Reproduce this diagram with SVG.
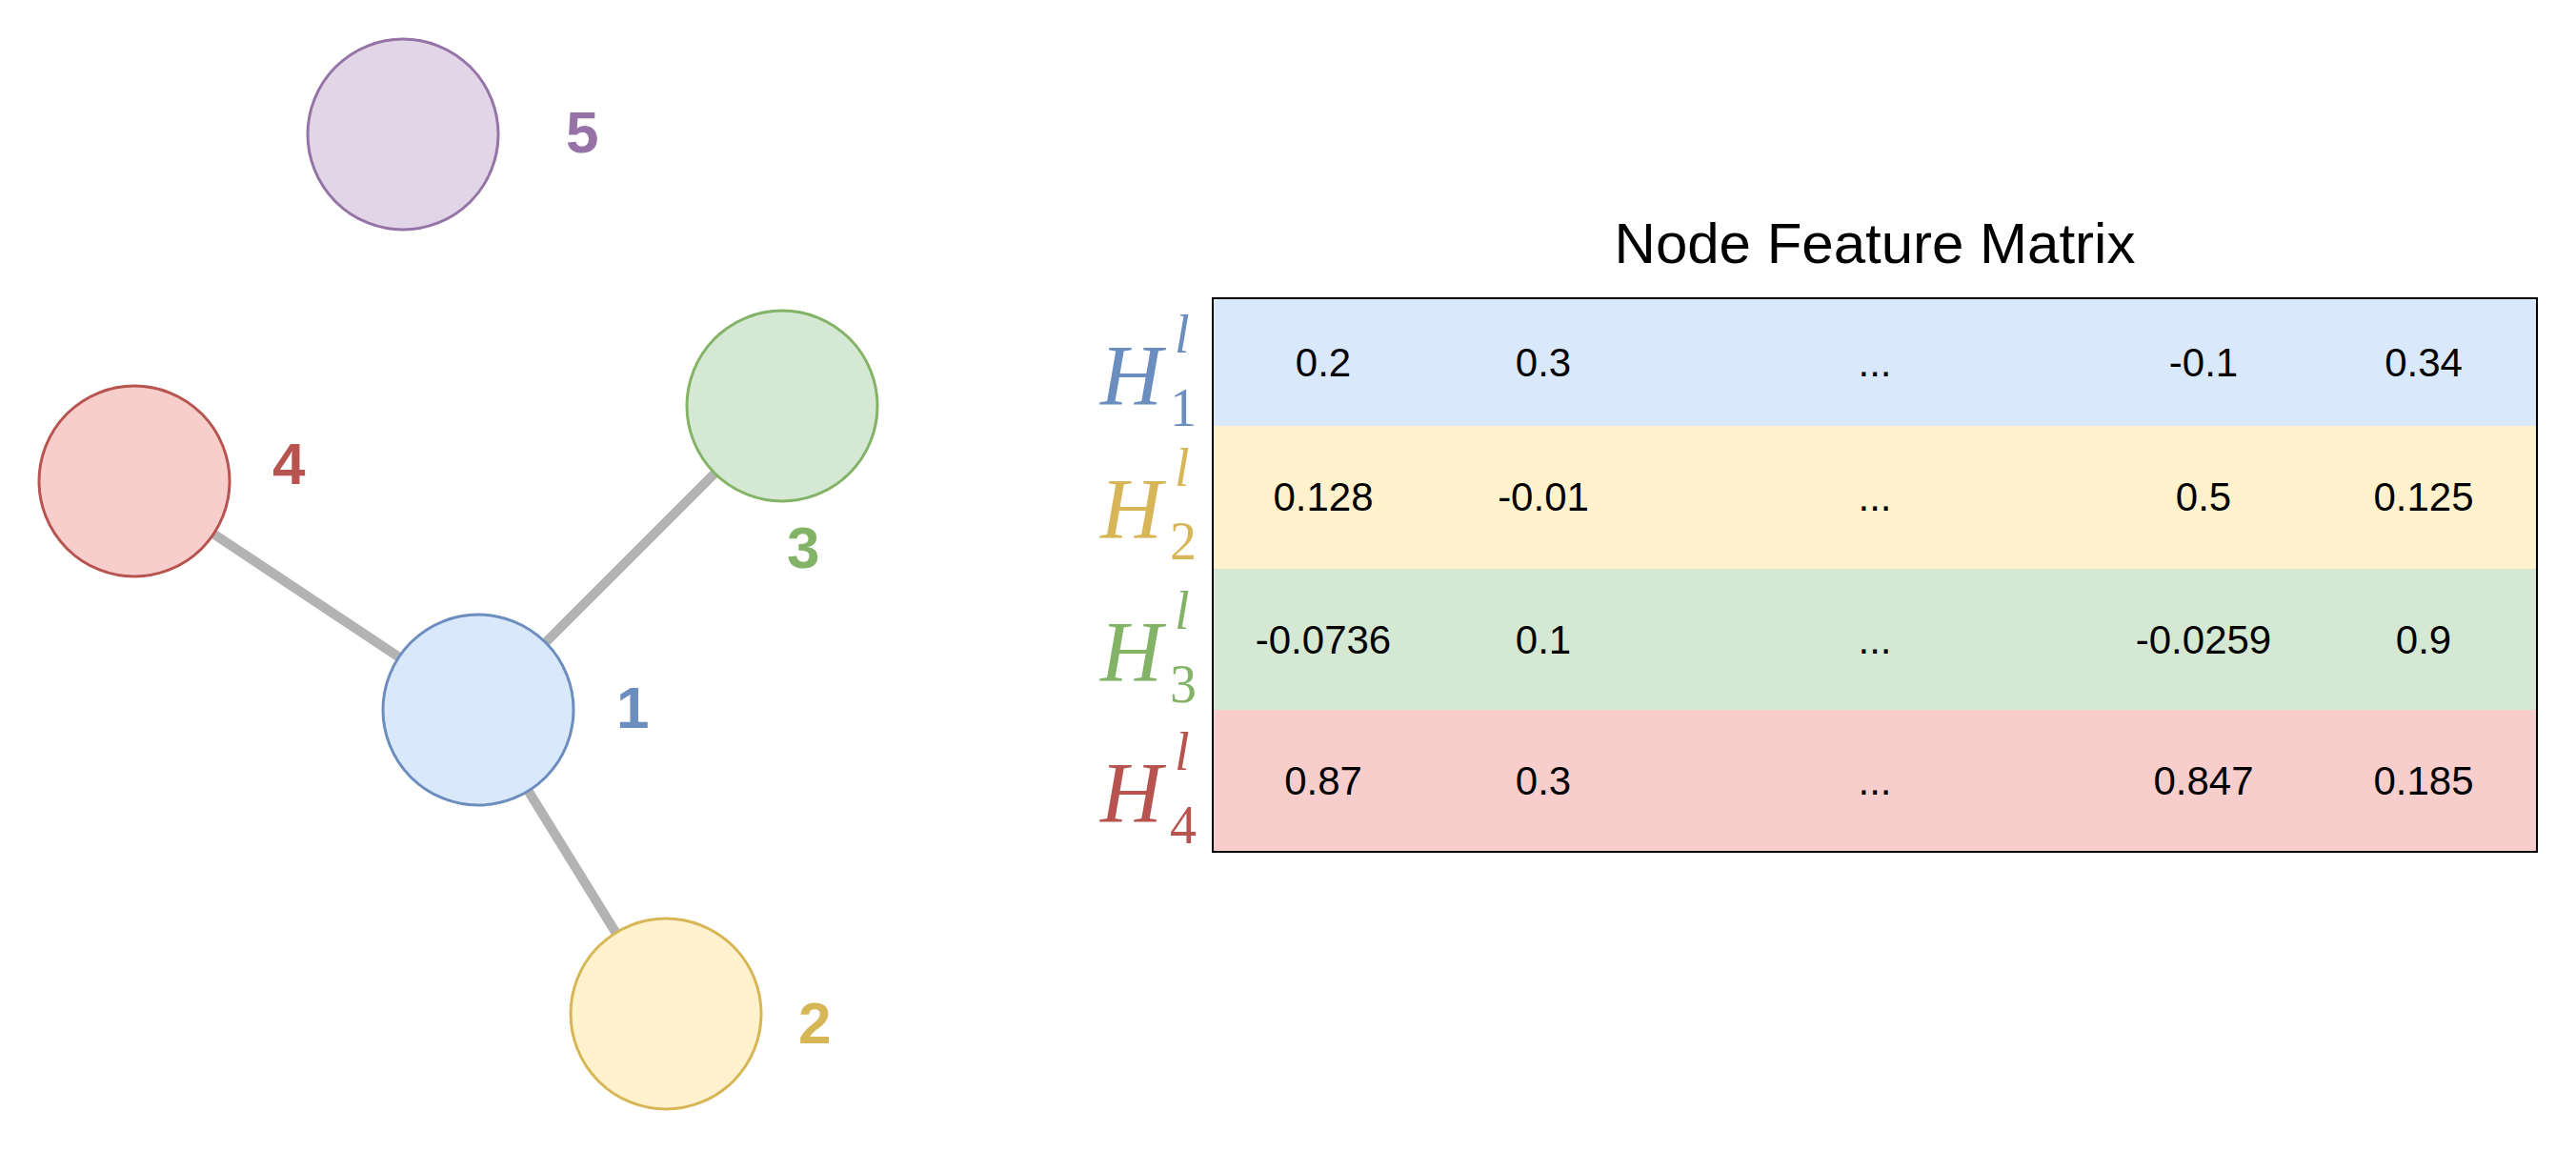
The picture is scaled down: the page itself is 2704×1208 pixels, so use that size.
<svg xmlns="http://www.w3.org/2000/svg" width="2704" height="1208" viewBox="0 0 2704 1208">
<style>
.edge{stroke:#b3b3b3;stroke-width:10;fill:none}
.nl{font-family:"Liberation Sans",Arial,sans-serif;font-weight:bold;font-size:62px;dominant-baseline:central}
.cell{font-family:"Liberation Sans",Arial,sans-serif;font-size:42px;text-anchor:middle;dominant-baseline:central}
.h{font-family:"Liberation Serif","Times New Roman",serif;font-style:italic;font-size:90px}
.sup{font-family:"Liberation Serif","Times New Roman",serif;font-style:italic;font-size:56px}
.sub{font-family:"Liberation Serif","Times New Roman",serif;font-size:56px}
circle{stroke-width:3}
</style>
<rect width="2704" height="1208" fill="#fff"/>
<g id="connectors">
<line class="edge" x1="502" y1="745" x2="141" y2="505"/>
<line class="edge" x1="502" y1="745" x2="821" y2="426"/>
<line class="edge" x1="502" y1="745" x2="699" y2="1064"/>
</g>
<g id="node5"><circle cx="423" cy="141" r="100" fill="#e1d5e7" stroke="#9673a6"/><text class="nl" x="594" y="138" fill="#9673a6">5</text></g>
<g id="node4"><circle cx="141" cy="505" r="100" fill="#f8cecc" stroke="#b85450"/><text class="nl" x="286" y="486" fill="#b85450">4</text></g>
<g id="node3"><circle cx="821" cy="426" r="100" fill="#d5e8d4" stroke="#82b366"/><text class="nl" x="826" y="574" fill="#82b366">3</text></g>
<g id="node1"><circle cx="502" cy="745" r="100" fill="#dae8fc" stroke="#6c8ebf"/><text class="nl" x="647" y="742" fill="#6c8ebf">1</text></g>
<g id="node2"><circle cx="699" cy="1064" r="100" fill="#fff2cc" stroke="#d6b656"/><text class="nl" x="838" y="1073" fill="#d6b656">2</text></g>
<g id="matrix">
<text x="1968" y="255" font-family="Liberation Sans,Arial,sans-serif" font-size="60" text-anchor="middle" dominant-baseline="central">Node Feature Matrix</text>
<rect x="1273" y="313" width="1390" height="134" fill="#dae8fc"/>
<rect x="1273" y="447" width="1390" height="150" fill="#fff2cc"/>
<rect x="1273" y="597" width="1390" height="148" fill="#d5e8d4"/>
<rect x="1273" y="745" width="1390" height="149" fill="#f8cecc"/>
<rect x="1273" y="313" width="1390" height="581" fill="none" stroke="#000" stroke-width="2"/>
<g class="cell">
<text class="cell" x="1389" y="380">0.2</text><text class="cell" x="1620" y="380">0.3</text><text class="cell" x="1968" y="380">...</text><text class="cell" x="2313" y="380">-0.1</text><text class="cell" x="2544" y="380">0.34</text>
<text class="cell" x="1389" y="521">0.128</text><text class="cell" x="1620" y="521">-0.01</text><text class="cell" x="1968" y="521">...</text><text class="cell" x="2313" y="521">0.5</text><text class="cell" x="2544" y="521">0.125</text>
<text class="cell" x="1389" y="671">-0.0736</text><text class="cell" x="1620" y="671">0.1</text><text class="cell" x="1968" y="671">...</text><text class="cell" x="2313" y="671">-0.0259</text><text class="cell" x="2544" y="671">0.9</text>
<text class="cell" x="1389" y="819">0.87</text><text class="cell" x="1620" y="819">0.3</text><text class="cell" x="1968" y="819">...</text><text class="cell" x="2313" y="819">0.847</text><text class="cell" x="2544" y="819">0.185</text>
</g>
</g>
<g id="labels">
<g fill="#6c8ebf"><text class="h" x="1155" y="425">H</text><text class="sup" x="1233" y="370">l</text><text class="sub" x="1228" y="447">1</text></g>
<g fill="#d6b656"><text class="h" x="1155" y="565">H</text><text class="sup" x="1233" y="510">l</text><text class="sub" x="1228" y="587">2</text></g>
<g fill="#82b366"><text class="h" x="1155" y="715">H</text><text class="sup" x="1233" y="660">l</text><text class="sub" x="1228" y="737">3</text></g>
<g fill="#b85450"><text class="h" x="1155" y="863">H</text><text class="sup" x="1233" y="808">l</text><text class="sub" x="1228" y="885">4</text></g>
</g>
</svg>
